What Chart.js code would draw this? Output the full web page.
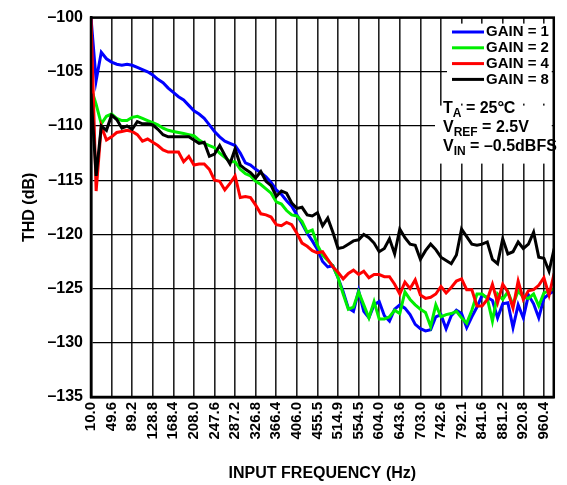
<!DOCTYPE html>
<html>
<head>
<meta charset="utf-8">
<script src="https://cdn.jsdelivr.net/npm/chart.js@4/dist/chart.umd.min.js"></script>
<style>
  html, body { margin: 0; padding: 0; background: #fff; }
  #wrap { width: 567px; height: 485px; }
</style>
</head>
<body>
<div id="wrap"><canvas id="thdChart" width="567" height="485"></canvas></div>
<script>
// tick labels on the frequency axis (one per grid line)
const freqLabels = ['10.0', '49.6', '89.2', '128.8', '168.4', '208.0', '247.6', '287.2', '326.8',
  '366.4', '406.0', '455.5', '514.9', '554.5', '604.0', '643.6', '703.0', '742.6', '792.1',
  '841.6', '881.2', '920.8', '960.4'];
const pointsPerLabel = 4;

// THD values (dB), 4 samples per labelled interval
const gain1 = [-100.0, -105.8, -103.2, -103.8, -104.1, -104.3, -104.4, -104.3, -104.4, -104.6,
  -104.8, -105.0, -105.3, -105.7, -106.0, -106.5, -106.9, -107.3, -107.6, -108.1,
  -108.6, -108.9, -109.3, -109.9, -110.5, -111.0, -111.4, -111.6, -111.8, -112.5,
  -113.4, -113.6, -114.0, -114.3, -114.7, -115.2, -115.9, -116.3, -116.9, -117.4,
  -118.2, -119.0, -119.9, -120.6, -121.4, -122.5, -123.0, -122.9, -124.0, -125.3,
  -126.8, -127.1, -125.2, -127.1, -127.7, -126.5, -126.2, -127.5, -128.0, -126.9,
  -126.5, -126.8, -127.4, -128.3, -128.7, -128.9, -128.8, -127.6, -127.4, -128.7,
  -127.5, -127.0, -127.3, -128.6, -127.6, -126.7, -125.6, -125.8, -126.1, -127.7,
  -126.4, -126.3, -128.6, -126.5, -127.7, -125.6, -126.4, -127.7, -125.9, -125.5, -125.2];
const gain2 = [-106.5, -108.0, -109.8, -109.1, -108.9, -109.3, -109.5, -109.5, -109.2, -109.1,
  -109.3, -109.5, -109.7, -109.9, -110.2, -110.4, -110.5, -110.6, -110.7, -110.8,
  -110.9, -111.3, -111.6, -111.8, -112.0, -112.5, -112.9, -113.3, -113.3, -114.0,
  -114.4, -114.6, -115.1, -115.4, -115.8, -116.2, -117.0, -117.2, -117.8, -118.2,
  -118.3, -118.8, -119.8, -119.6, -121.0, -121.9, -122.4, -122.9, -124.0, -125.5,
  -126.9, -126.7, -125.3, -126.5, -127.7, -126.2, -127.8, -127.8, -127.6, -127.0,
  -127.3, -125.3, -126.0, -126.5, -126.9, -127.2, -128.5, -126.5, -127.6, -127.4,
  -127.3, -127.1, -127.7, -128.2, -127.0, -125.5, -125.5, -125.9, -128.0, -125.5,
  -126.0, -125.3, -126.5, -125.2, -125.8, -125.9, -125.5, -126.6, -125.4, -125.2, -125.0];
const gain4 = [-100.0, -116.0, -110.0, -111.3, -111.0, -110.6, -110.5, -110.4, -110.5, -110.8,
  -111.4, -111.2, -111.5, -111.8, -112.2, -112.4, -112.4, -112.4, -113.3, -112.8,
  -113.6, -113.5, -113.5, -114.0, -115.0, -115.1, -115.9, -115.3, -114.6, -116.6,
  -116.5, -116.6, -117.3, -118.1, -118.2, -118.4, -119.1, -119.2, -118.9, -119.1,
  -119.9, -120.8, -121.1, -121.5, -121.7, -121.6, -122.3, -123.0, -123.5, -124.1,
  -123.6, -123.3, -123.7, -123.4, -124.0, -123.7, -123.7, -123.9, -123.9, -124.6,
  -125.5, -124.4, -125.0, -124.2, -125.6, -125.9, -125.8, -125.5, -124.8, -125.4,
  -124.9, -124.3, -124.1, -125.1, -125.1, -126.6, -126.6, -126.0, -124.6, -126.3,
  -124.6, -125.3, -126.8, -124.3, -126.0, -125.2, -125.1, -124.7, -124.0, -125.6, -123.6];
const gain8 = [-107.0, -114.6, -110.0, -110.4, -109.0, -109.4, -110.2, -110.0, -110.3, -109.6,
  -109.8, -109.8, -109.9, -110.3, -110.8, -111.0, -111.0, -111.0, -111.0, -111.0,
  -111.3, -111.6, -111.5, -112.8, -112.6, -111.8, -112.7, -113.5, -112.1, -113.6,
  -114.0, -114.3, -114.8, -114.2, -115.1, -115.5, -116.5, -116.0, -116.2, -117.1,
  -117.6, -117.5, -118.2, -118.3, -118.0, -119.2, -118.5, -119.8, -121.3, -121.2,
  -120.9, -120.6, -120.5, -120.0, -120.3, -120.8, -121.6, -121.3, -120.4, -121.8,
  -119.5, -120.3, -120.9, -121.0, -122.3, -121.5, -120.9, -121.4, -122.1, -122.4,
  -122.7, -121.9, -119.5, -120.2, -120.9, -121.0, -120.9, -120.7, -122.3, -122.7,
  -120.4, -121.8, -121.6, -120.7, -121.3, -120.9, -119.8, -122.1, -122.2, -123.4, -121.3];

const seriesNames = ['GAIN = 1', 'GAIN = 2', 'GAIN = 4', 'GAIN = 8'];
const seriesColors = ['#0000ff', '#00ee00', '#ff0000', '#000000'];
const seriesValues = [gain1, gain2, gain4, gain8];

const FONT = '"Liberation Sans", Arial, sans-serif';

function toPoints(values) {
  return values.map((v, i) => ({ x: i / pointsPerLabel, y: v }));
}

// ---------- legend box + conditions text inside the plot ----------
const boxPlugin = {
  id: 'boxPlugin',
  afterDatasetsDraw(chart) {
    const ctx = chart.ctx;
    const a = chart.chartArea;
    ctx.save();
    ctx.fillStyle = '#fff';
    ctx.fillRect(447, a.top + 6, a.right - 447 - 2, 80);
    ctx.fillRect(435, a.top + 88, a.right - 435 - 2, 58);

    ctx.font = 'bold 15px ' + FONT;
    ctx.textBaseline = 'middle';
    seriesNames.forEach((name, i) => {
      const y = 32 + i * 15.8;
      ctx.strokeStyle = seriesColors[i];
      ctx.lineWidth = 3;
      ctx.beginPath();
      ctx.moveTo(452, y);
      ctx.lineTo(484, y);
      ctx.stroke();
      ctx.fillStyle = '#000';
      ctx.fillText(name, 486, y);
    });

    // conditions, with subscripts
    const rows = [['T', 'A', ' = 25°C'], ['V', 'REF', ' = 2.5V'], ['V', 'IN', ' = –0.5dBFS']];
    rows.forEach((r, i) => {
      const y = 109 + i * 19;
      let x = 443;
      ctx.font = 'bold 16px ' + FONT;
      ctx.fillStyle = '#000';
      ctx.fillText(r[0], x, y);
      x += ctx.measureText(r[0]).width;
      ctx.font = 'bold 12px ' + FONT;
      ctx.fillText(r[1], x, y + 5);
      x += ctx.measureText(r[1]).width;
      ctx.font = 'bold 16px ' + FONT;
      ctx.fillText(r[2], x, y);
    });

    // plot frame
    ctx.strokeStyle = '#000';
    ctx.lineWidth = 2.5;
    ctx.strokeRect(a.left, a.top, a.right - a.left, a.bottom - a.top);
    ctx.restore();
  }
};

const ctx = document.getElementById('thdChart').getContext('2d');
new Chart(ctx, {
  type: 'line',
  data: {
    datasets: seriesValues.map((vals, i) => ({
      label: seriesNames[i],
      data: toPoints(vals),
      borderColor: seriesColors[i],
      backgroundColor: seriesColors[i],
      borderWidth: 3,
      pointRadius: 0,
      tension: 0,
      order: 4 - i
    }))
  },
  options: {
    responsive: false,
    animation: false,
    layout: { padding: { left: 0, top: 12, right: 5, bottom: 0 } },
    plugins: {
      legend: { display: false },
      tooltip: { enabled: false }
    },
    scales: {
      x: {
        type: 'linear',
        min: 0,
        max: 22.48,
        afterFit(scale) { scale.height = 88; },
        grid: { color: '#222', lineWidth: 1.6, drawTicks: false },
        border: { color: '#000', width: 2.5 },
        ticks: {
          stepSize: 1,
          includeBounds: false,
          autoSkip: false,
          minRotation: 90,
          maxRotation: 90,
          padding: 5,
          color: '#000',
          font: { family: FONT, size: 15, weight: 'bold' },
          callback: v => (Number.isInteger(v) && freqLabels[v]) ? freqLabels[v] : ''
        },
        title: {
          display: true,
          text: 'INPUT FREQUENCY (Hz)',
          color: '#000',
          font: { family: FONT, size: 16, weight: 'bold' },
          padding: { top: 0, bottom: 2 }
        }
      },
      y: {
        min: -135,
        max: -100,
        afterFit(scale) { scale.width = 91; },
        grid: { color: '#000', lineWidth: 1.3, drawTicks: false },
        border: { color: '#000', width: 2.5 },
        ticks: {
          stepSize: 5,
          padding: 8,
          color: '#000',
          font: { family: FONT, size: 16, weight: 'bold' },
          callback: v => '–' + Math.abs(v)
        },
        title: {
          display: true,
          text: 'THD (dB)',
          color: '#000',
          font: { family: FONT, size: 16, weight: 'bold' },
          padding: { top: 20, bottom: 0 }
        }
      }
    }
  },
  plugins: [boxPlugin]
});
</script>
</body>
</html>
